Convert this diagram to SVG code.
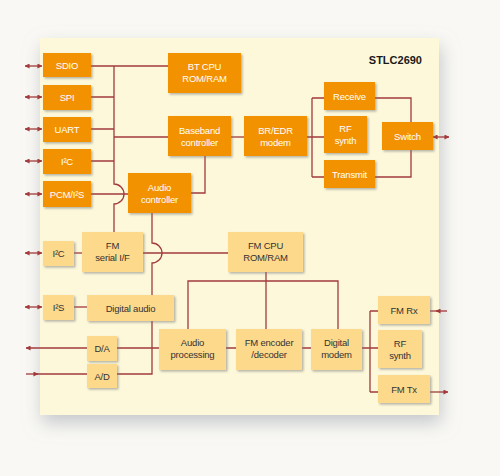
<svg xmlns="http://www.w3.org/2000/svg" width="500" height="476" viewBox="0 0 500 476">
<defs>
<filter id="panelShadow" x="-20%" y="-20%" width="140%" height="140%">
<feGaussianBlur in="SourceAlpha" stdDeviation="9"/>
<feOffset dx="2" dy="8" result="b"/>
<feFlood flood-color="#9aa0aa" flood-opacity="0.55"/>
<feComposite in2="b" operator="in"/>
<feMerge><feMergeNode/><feMergeNode in="SourceGraphic"/></feMerge>
</filter>
<filter id="boxShadow" x="-10%" y="-10%" width="130%" height="140%">
<feDropShadow dx="1.5" dy="1.5" stdDeviation="0.8" flood-color="#777" flood-opacity="0.55"/>
</filter>
<marker id="ah" viewBox="0 0 6 6" refX="5.5" refY="3" markerWidth="5" markerHeight="5" markerUnits="userSpaceOnUse" orient="auto-start-reverse">
<path d="M0,0 L6,3 L0,6 z" fill="#a23a3c"/>
</marker>
<style>
.bg{fill:#f9f8f4}
.panel{fill:#fdf8da}
.o rect{fill:#f39200;filter:url(#boxShadow)}
.p rect{fill:#fdd98c;filter:url(#boxShadow)}
text{font-family:"Liberation Sans",Arial,sans-serif;font-size:9.5px;letter-spacing:-0.2px;text-anchor:middle}
.o text{fill:#ffffff}
.p text{fill:#333333}
.title{font-family:"Liberation Sans",Arial,sans-serif;font-weight:bold;font-size:11px;letter-spacing:0;fill:#1a1a1a;text-anchor:end}
#connectors path{fill:none;stroke:#a23a3c;stroke-width:1.3}
.d{marker-start:url(#ah);marker-end:url(#ah)}
.e{marker-end:url(#ah)}
.s{marker-start:url(#ah)}
</style>
</defs>
<rect class="bg" x="0" y="0" width="500" height="476"/>
<rect class="panel" x="40" y="38" width="399" height="377" filter="url(#panelShadow)"/>
<text class="title" x="422" y="64">STLC2690</text>

<g id="connectors">
<path d="M114,66 V184 A10,10 0 0 1 114,204 V232"/>
<path d="M91,66 H168"/>
<path d="M91,97 H114 M91,129 H114 M91,161 H114"/>
<path d="M114,137 H168"/>
<path d="M91,194 H128"/>
<path d="M205,156 V193 H191"/>
<path d="M231,137 H244"/>
<path d="M307,137 H324 M312,98 V177 M312,98 H324 M312,177 H324"/>
<path d="M375,98 H411 V122 M375,177 H411 V150"/>
<path class="d" d="M433,137 H449"/>
<path class="d" d="M25,66 H42"/>
<path class="d" d="M25,97 H42"/>
<path class="d" d="M25,129 H42"/>
<path class="d" d="M25,161 H42"/>
<path class="d" d="M25,194 H42"/>
<path d="M152,213 V243 A10,10 0 0 1 152,263 V295"/>
<path d="M152,321 V374 H117"/>
<path d="M143,253 H228"/>
<path d="M74,253 H82"/>
<path class="d" d="M25,253 H42"/>
<path class="d" d="M25,307 H42"/>
<path d="M74,307 H87"/>
<path class="s" d="M26,348 H87"/>
<path d="M117,348 H159"/>
<path class="e" d="M26,374 H38"/>
<path d="M36,374 H87"/>
<path d="M266,272 V329"/>
<path d="M188,329 V281 H338 V329"/>
<path d="M226,348 H236 M302,348 H311"/>
<path d="M362,348 H378 M370,311 V392 M370,311 H378 M370,392 H378"/>
<path class="e" d="M447,311 H436"/>
<path d="M438,311 H430"/>
<path class="e" d="M430,392 H448"/>
</g>

<g id="sdio" class="o"><rect x="43" y="53" width="48" height="24"/><text x="67" y="69">SDIO</text></g>
<g id="spi" class="o"><rect x="43" y="85" width="48" height="25"/><text x="67" y="101">SPI</text></g>
<g id="uart" class="o"><rect x="43" y="117" width="48" height="25"/><text x="67" y="133">UART</text></g>
<g id="i2c" class="o"><rect x="43" y="149" width="48" height="25"/><text x="67" y="165">I²C</text></g>
<g id="pcm" class="o"><rect x="43" y="181" width="48" height="26"/><text x="67" y="198">PCM/I²S</text></g>
<g id="btcpu" class="o"><rect x="168" y="53" width="73" height="40"/><text x="204.5" y="70">BT CPU</text><text x="204.5" y="82">ROM/RAM</text></g>
<g id="baseband" class="o"><rect x="168" y="116" width="63" height="40"/><text x="199.5" y="134">Baseband</text><text x="199.5" y="146">controller</text></g>
<g id="audioctl" class="o"><rect x="128" y="173" width="63" height="40"/><text x="159.5" y="191">Audio</text><text x="159.5" y="203">controller</text></g>
<g id="bredr" class="o"><rect x="244" y="116" width="63" height="40"/><text x="275.5" y="134">BR/EDR</text><text x="275.5" y="146">modem</text></g>
<g id="receive" class="o"><rect x="324" y="82" width="51" height="28"/><text x="349.5" y="100">Receive</text></g>
<g id="rfsynth" class="o"><rect x="324" y="116" width="43" height="37"/><text x="345.5" y="132">RF</text><text x="345.5" y="144">synth</text></g>
<g id="transmit" class="o"><rect x="324" y="160" width="51" height="28"/><text x="349.5" y="178">Transmit</text></g>
<g id="switch" class="o"><rect x="382" y="122" width="51" height="28"/><text x="407.5" y="140">Switch</text></g>

<g id="fmi2c" class="p"><rect x="43" y="241" width="31" height="25"/><text x="58.5" y="257">I²C</text></g>
<g id="fmserial" class="p"><rect x="82" y="232" width="61" height="40"/><text x="112.5" y="249">FM</text><text x="112.5" y="261">serial I/F</text></g>
<g id="fmcpu" class="p"><rect x="228" y="232" width="75" height="40"/><text x="265.5" y="249">FM CPU</text><text x="265.5" y="261">ROM/RAM</text></g>
<g id="fmi2s" class="p"><rect x="43" y="295" width="31" height="25"/><text x="58.5" y="311">I²S</text></g>
<g id="digaudio" class="p"><rect x="87" y="295" width="87" height="26"/><text x="130.5" y="312">Digital audio</text></g>
<g id="da" class="p"><rect x="87" y="336" width="30" height="25"/><text x="102" y="352">D/A</text></g>
<g id="ad" class="p"><rect x="87" y="364" width="30" height="24"/><text x="102" y="380">A/D</text></g>
<g id="audproc" class="p"><rect x="159" y="329" width="67" height="41"/><text x="192.5" y="346">Audio</text><text x="192.5" y="358">processing</text></g>
<g id="fmenc" class="p"><rect x="236" y="329" width="66" height="41"/><text x="269" y="346">FM encoder</text><text x="269" y="358">/decoder</text></g>
<g id="digmodem" class="p"><rect x="311" y="329" width="51" height="41"/><text x="336.5" y="346">Digital</text><text x="336.5" y="358">modem</text></g>
<g id="fmrx" class="p"><rect x="378" y="296" width="52" height="28"/><text x="404" y="314">FM Rx</text></g>
<g id="fmrf" class="p"><rect x="378" y="330" width="44" height="38"/><text x="400" y="347">RF</text><text x="400" y="359">synth</text></g>
<g id="fmtx" class="p"><rect x="378" y="375" width="52" height="28"/><text x="404" y="393">FM Tx</text></g>
</svg>
